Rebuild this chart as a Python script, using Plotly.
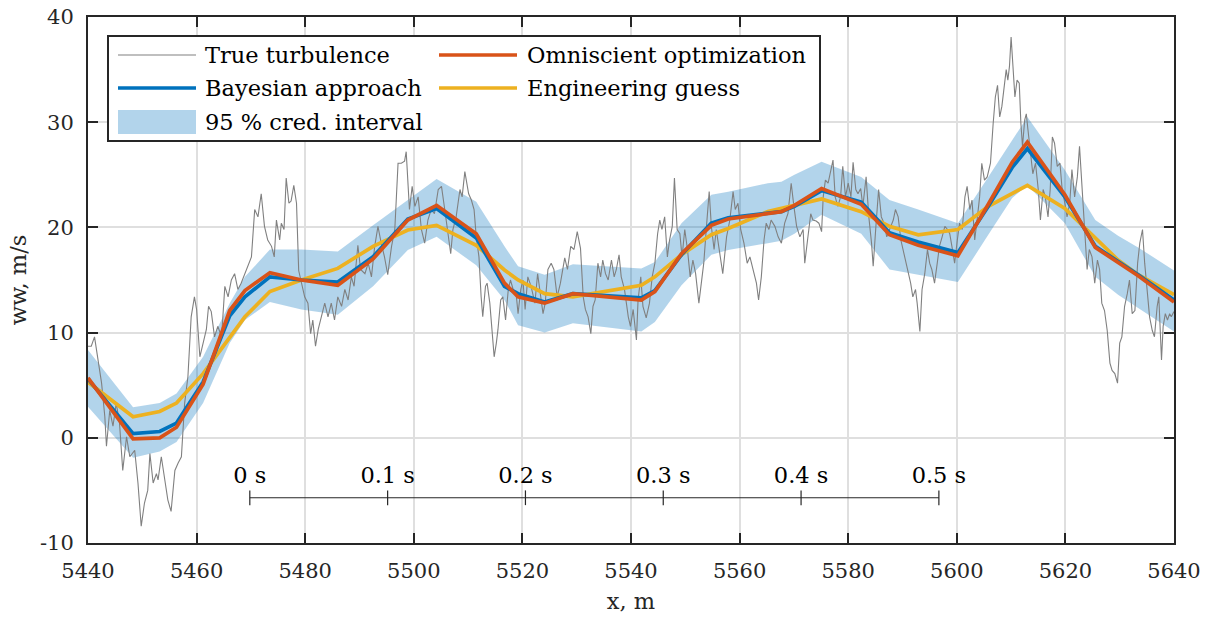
import plotly.graph_objects as go

# ---------------- data ----------------
node_x = [5440.0, 5448.3, 5453.2, 5456.3, 5461.2, 5466.1, 5468.9, 5473.5, 5479.3, 5486.0,
          5492.5, 5498.9, 5504.2, 5511.5, 5516.7, 5519.2, 5524.1, 5529.3, 5541.9, 5544.4,
          5549.3, 5554.8, 5557.9, 5565.2, 5567.7, 5570.1, 5575.1, 5582.4, 5587.6, 5592.9,
          5600.2, 5605.8, 5610.2, 5613.0, 5619.9, 5625.5, 5629.7, 5633.4, 5640.0]
omniscient = [5.7, -0.1, 0.0, 1.0, 5.1, 12.1, 14.0, 15.7, 15.0, 14.5,
              17.0, 20.7, 22.1, 19.4, 14.7, 13.4, 12.8, 13.7, 13.1, 13.9,
              17.5, 20.2, 20.8, 21.3, 21.5, 22.1, 23.7, 22.2, 19.3, 18.3,
              17.3, 22.2, 26.2, 28.1, 23.1, 18.1, 16.7, 15.4, 12.9]
bayesian = [5.6, 0.4, 0.6, 1.4, 5.3, 11.6, 13.4, 15.3, 15.0, 14.8,
            17.2, 20.8, 21.8, 19.0, 14.4, 13.7, 12.9, 13.7, 13.3, 14.0,
            17.4, 20.4, 20.9, 21.3, 21.5, 22.0, 23.5, 22.4, 19.5, 18.6,
            17.6, 22.0, 25.7, 27.5, 22.9, 18.2, 16.8, 15.5, 13.1]
engineering = [5.3, 2.0, 2.5, 3.3, 6.1, 9.6, 11.5, 13.9, 15.0, 16.1,
               18.2, 19.75, 20.2, 18.3, 15.95, 15.0, 13.7, 13.4, 14.5, 15.3,
               17.4, 19.3, 19.9, 21.5, 21.8, 22.1, 22.7, 21.5, 20.1, 19.3,
               19.8, 22.0, 23.2, 24.0, 21.8, 19.0, 16.9, 15.5, 13.6]
ci_upper = [8.35, 2.9, 3.3, 4.2, 7.7, 12.8, 15.3, 17.9, 17.9, 17.7,
            20.2, 22.6, 24.6, 22.45, 18.2, 16.3, 15.5, 16.5, 16.1, 16.7,
            20.4, 23.1, 23.4, 24.2, 24.35, 25.0, 26.25, 24.8, 22.6, 21.7,
            20.4, 24.8, 28.3, 30.5, 25.45, 20.7, 19.2, 18.1, 15.9]
ci_lower = [2.96, -1.9, -1.3, -0.4, 3.3, 9.0, 11.2, 12.9, 12.2, 11.7,
            14.4, 17.85, 19.1, 16.4, 13.1, 10.7, 10.0, 10.9, 10.1, 11.0,
            14.5, 17.4, 17.85, 18.5, 18.74, 19.4, 21.2, 19.4, 16.0, 15.5,
            14.8, 19.3, 22.8, 24.0, 20.4, 15.3, 13.6, 12.35, 10.1]

turb_x = [
    5440.0, 5440.6, 5441.2, 5441.8, 5442.5, 5443.1, 5443.4, 5444.0, 5444.6, 5445.2,
    5445.8, 5446.4, 5447.1, 5447.7, 5448.6, 5449.2, 5449.8, 5450.4, 5451.0, 5451.4,
    5452.0, 5452.6, 5452.9, 5453.5, 5454.1, 5454.7, 5455.3, 5456.0, 5456.6, 5457.2,
    5457.8, 5458.4, 5459.0, 5459.6, 5460.0, 5460.6, 5461.2, 5461.8, 5462.2, 5462.7,
    5463.3, 5463.9, 5464.6, 5465.2, 5465.8, 5466.4, 5467.0, 5467.6, 5468.2, 5468.9,
    5469.5, 5470.1, 5470.7, 5471.3, 5471.9, 5472.5, 5473.1,
    5473.8, 5474.3, 5474.7, 5475.3, 5475.6, 5476.1, 5476.5, 5477.0, 5477.4, 5477.9,
    5478.4, 5478.8, 5479.3, 5479.9, 5480.5, 5481.0, 5481.4, 5481.9, 5482.4, 5483.0,
    5483.6, 5484.2, 5484.8, 5485.4, 5486.0, 5486.7, 5487.3, 5487.9, 5488.5, 5489.0,
    5489.4, 5489.7, 5490.2, 5491.0, 5491.6, 5492.2, 5492.8, 5493.4, 5494.0, 5494.6,
    5495.2, 5495.9, 5496.5, 5497.1, 5497.7, 5498.3, 5498.6, 5498.9, 5499.2, 5499.7,
    5500.2, 5500.8, 5501.4, 5502.0, 5502.6, 5503.2, 5503.8, 5504.5, 5505.1, 5505.7,
    5506.3,
    5506.8, 5507.2, 5507.8, 5508.5, 5508.9, 5509.4, 5509.7, 5510.1, 5510.6, 5511.1,
    5511.5, 5512.0, 5512.4, 5512.7, 5513.2, 5513.5, 5514.0, 5514.4, 5514.8, 5515.2,
    5515.5, 5516.0, 5516.4, 5516.9, 5517.4, 5517.8, 5518.3, 5518.9, 5519.2, 5519.7,
    5520.1, 5520.5, 5521.0, 5521.6, 5522.3, 5522.8, 5523.2, 5523.8, 5524.2, 5524.7,
    5525.3, 5525.8, 5526.4, 5527.0, 5527.8, 5528.3, 5528.9, 5529.5, 5530.1, 5530.7,
    5531.2, 5531.6, 5532.1, 5532.6, 5533.0, 5533.4, 5533.9, 5534.4, 5534.8, 5535.3,
    5535.8, 5536.4, 5536.9, 5537.3, 5537.8, 5538.2, 5538.8, 5539.5,
    5539.9, 5540.4, 5541.0, 5541.3, 5541.8, 5542.2, 5542.8, 5543.4, 5543.9, 5544.4,
    5544.9, 5545.3, 5545.7, 5546.2, 5546.7, 5547.1, 5547.6, 5548.0, 5548.5, 5549.0,
    5549.4, 5549.9, 5550.4, 5550.9, 5551.4, 5551.9, 5552.5, 5553.0, 5553.4, 5553.9,
    5554.4, 5554.8, 5555.3, 5555.7, 5556.3, 5556.9, 5557.6, 5558.2, 5558.8, 5559.2,
    5559.7, 5560.2, 5560.8, 5561.4, 5561.9, 5562.5, 5563.1, 5563.5, 5564.0, 5564.5,
    5564.9, 5565.4, 5565.8, 5566.5, 5567.1, 5567.7, 5568.3, 5568.9, 5569.5, 5570.0,
    5570.5, 5571.1, 5571.7, 5572.0, 5572.5,
    5573.1, 5573.5, 5574.1, 5574.6, 5575.1, 5575.4, 5575.8, 5576.3, 5576.8, 5577.2,
    5577.6, 5578.1, 5578.6, 5579.0, 5579.5, 5580.0, 5580.5, 5580.9, 5581.4, 5581.8,
    5582.3, 5582.7, 5583.3, 5583.8, 5584.3, 5584.6, 5585.1, 5585.6, 5586.1, 5586.6,
    5587.1, 5587.6, 5588.3, 5588.7, 5589.2, 5589.7, 5590.1, 5590.5, 5591.0, 5591.5,
    5591.9, 5592.4, 5592.7, 5593.2, 5593.6, 5594.1, 5594.6, 5595.0, 5595.4, 5595.9,
    5596.4, 5596.8, 5597.3, 5597.8, 5598.3, 5598.7, 5599.1, 5599.6, 5600.1, 5600.5,
    5601.0, 5601.5, 5601.9, 5602.4, 5602.8, 5603.3, 5603.8, 5604.2, 5604.6, 5605.1,
    5605.6,
    5606.2, 5606.7, 5607.1, 5607.5, 5607.9, 5608.3, 5608.8, 5609.1, 5609.4, 5609.7,
    5610.0, 5610.4, 5610.7, 5611.1, 5611.5, 5611.8, 5612.1, 5612.5, 5612.8, 5613.1,
    5613.6, 5614.0, 5614.5, 5615.0, 5615.4, 5615.9, 5616.3, 5616.8, 5617.2, 5617.6,
    5618.0, 5618.5, 5619.0, 5619.4, 5619.9, 5620.3, 5620.8, 5621.2, 5621.7, 5622.2,
    5622.6, 5623.1, 5623.6, 5624.0, 5624.4, 5624.9, 5625.4, 5625.9, 5626.3, 5626.7,
    5627.2, 5627.7, 5628.2, 5628.6, 5629.1, 5629.6, 5630.0, 5630.4, 5630.9, 5631.4,
    5631.8, 5632.3, 5632.8, 5633.3, 5633.7, 5634.2, 5634.6, 5635.1, 5635.5, 5636.0,
    5636.4, 5636.9, 5637.2, 5637.7, 5638.0, 5638.4, 5638.8, 5639.2, 5639.5, 5640.0]
turb_y = [
    8.7, 8.7, 9.6, 7.7, 5.2, 2.0, -0.8, 2.6, 1.1, 3.3,
    1.4, -3.1, 0.1, -1.8, -1.2, -4.3, -8.4, -6.2, -5.0, -1.5,
    -4.3, -3.4, -4.0, -1.8, -3.7, -5.9, -7.0, -3.1, -2.4, -1.8,
    3.3, 5.8, 11.5, 13.4, 12.2, 7.7, 9.0, 10.3, 12.5, 12.0,
    9.6, 10.6, 9.6, 14.4, 13.4, 15.0, 15.6, 14.1, 14.7, 15.6,
    16.3, 17.2, 21.7, 21.0, 23.2, 20.1, 18.8,
    18.2, 17.2, 20.7, 18.8, 20.4, 19.8, 24.7, 22.3, 22.5, 24.0,
    22.3, 15.9, 14.7, 13.4, 12.8, 9.9, 11.2, 8.7, 10.3, 11.5,
    12.8, 11.5, 12.8, 11.2, 13.4, 12.5, 14.1, 13.1, 15.3, 14.4,
    16.6, 18.3, 16.0, 15.6, 16.6, 15.3, 18.2, 20.1, 18.5, 17.2,
    15.5, 18.2, 19.8, 26.1, 26.1, 26.3, 27.2, 24.8, 21.7, 23.9,
    22.0, 22.9, 19.8, 18.5, 20.7, 21.7, 21.3, 23.6, 23.9, 21.7,
    19.1,
    17.5, 19.8, 21.0, 23.6, 22.9, 25.3, 24.5, 23.2, 22.6, 21.7,
    19.1, 17.2, 13.4, 11.5, 14.4, 14.7, 12.8, 10.3, 7.7, 9.0,
    10.3, 13.1, 13.4, 11.2, 14.1, 15.0, 14.1, 13.4, 11.8, 14.1,
    15.0, 12.2, 15.3, 14.4, 12.8, 15.6, 14.1, 11.8, 12.8, 16.0,
    16.6, 16.0, 13.4, 14.7, 17.1, 16.0, 18.2, 17.9, 19.6, 18.0,
    13.4, 12.2, 11.5, 9.9, 12.5, 13.1, 16.6, 15.3, 16.9, 15.6,
    15.0, 16.9, 15.3, 16.0, 17.4, 15.3, 14.1, 11.5,
    10.6, 12.2, 9.3, 13.1, 15.3, 12.5, 11.4, 12.8, 15.3, 16.6,
    19.4, 20.7, 19.8, 21.0, 17.2, 18.8, 20.1, 24.7, 19.8, 19.4,
    17.2, 19.8, 17.9, 15.3, 16.9, 15.6, 12.8, 15.0, 16.6, 20.1,
    23.4, 20.1, 17.9, 19.8, 17.9, 15.6, 19.1, 20.7, 23.4, 21.7,
    22.3, 19.8, 18.5, 16.6, 17.2, 16.0, 14.7, 13.1, 15.3, 18.8,
    20.4, 19.8, 20.7, 20.1, 19.1, 18.5, 20.4, 21.3, 24.2, 22.0,
    20.1, 19.1, 19.8, 16.6, 18.8,
    21.3, 20.7, 20.6, 20.4, 19.6, 22.9, 24.5, 24.2, 25.5, 26.4,
    22.9, 22.0, 22.9, 25.8, 22.9, 24.2, 22.9, 26.2, 23.6, 23.2,
    23.7, 22.0, 24.8, 21.0, 18.5, 16.3, 20.1, 23.6, 21.0, 20.4,
    19.1, 19.8, 20.7, 21.7, 21.0, 18.8, 17.9, 16.9, 15.6, 14.7,
    13.4, 14.1, 12.8, 10.1, 14.1, 15.6, 17.9, 16.6, 16.0, 14.7,
    16.6, 18.2, 19.1, 20.1, 19.8, 19.4, 18.2, 16.6, 18.8, 20.4,
    19.8, 22.9, 23.9, 21.7, 22.6, 18.8, 21.0, 22.9, 26.1, 24.5,
    24.8,
    26.1, 29.9, 32.4, 33.5, 30.5, 31.5, 33.7, 35.0, 34.0, 35.3,
    38.1, 35.0, 32.4, 34.0, 33.7, 29.9, 27.7, 30.2, 30.8, 29.3,
    26.7, 25.1, 26.1, 23.6, 20.7, 23.6, 22.9, 21.0, 23.6, 28.6,
    28.0, 25.8, 26.1, 23.6, 22.3, 21.0, 22.3, 25.5, 22.9, 24.8,
    27.7, 23.6, 18.5, 16.0, 17.9, 17.2, 14.7, 16.9, 16.0, 12.8,
    12.1, 10.2, 7.1, 6.4, 6.1, 5.2, 9.0, 9.6, 12.5, 13.7,
    15.0, 11.8, 12.1, 16.6, 18.5, 19.8, 16.6, 13.4, 11.5, 10.2,
    9.6, 12.5, 13.4, 7.4, 10.6, 11.8, 11.2, 11.8, 11.5, 12.0]

time_ticks = [0.0, 0.1, 0.2, 0.3, 0.4, 0.5]          # s
time_labels = ["0 s", "0.1 s", "0.2 s", "0.3 s", "0.4 s", "0.5 s"]
time_origin_x = 5469.8                              # m, position of 0 s
flight_speed = 253.8                                # m/s
time_bar_y = -5.7
time_label_y = -3.75
time_tick_half = 0.7

x_ticks = list(range(5440, 5641, 20))
y_ticks = list(range(-10, 41, 10))
y_ticktext = [str(v) for v in y_ticks]   # ASCII hyphen, like the reference

legend_labels = ["True turbulence", "Omniscient optimization", "Bayesian approach",
                 "Engineering guess", "95 % cred. interval"]

# ---------------- styling ----------------
FONT = "DejaVu Serif, Liberation Serif, serif"
C_GRAY = "#808080"
C_BLUE = "#0072BD"
C_ORANGE = "#D95319"
C_YELLOW = "#EDB120"
C_BAND = "rgba(0,114,189,0.30)"
C_AX = "#262626"
FS = 22.5
FS_TICK = 21
LW = 3.7

W, H = 1207, 619
ML, MR, MT, MB = 88, 33, 17, 76
PW, PH = W - ML - MR, H - MT - MB


def pxx(px):
    return (px - ML) / PW


def pxy(py):
    return (H - MB - py) / PH


fig = go.Figure()

# credible interval band
fig.add_trace(go.Scatter(
    x=node_x + node_x[::-1], y=ci_upper + ci_lower[::-1],
    fill="toself", fillcolor=C_BAND, line=dict(width=0),
    mode="lines", hoverinfo="skip", showlegend=False))

# true turbulence
fig.add_trace(go.Scatter(x=turb_x, y=turb_y, mode="lines",
                         line=dict(color=C_GRAY, width=1.1), showlegend=False))
# engineering guess
fig.add_trace(go.Scatter(x=node_x, y=engineering, mode="lines",
                         line=dict(color=C_YELLOW, width=LW), showlegend=False))
# bayesian
fig.add_trace(go.Scatter(x=node_x, y=bayesian, mode="lines",
                         line=dict(color=C_BLUE, width=LW), showlegend=False))
# omniscient
fig.add_trace(go.Scatter(x=node_x, y=omniscient, mode="lines",
                         line=dict(color=C_ORANGE, width=LW), showlegend=False))

# time scale bar
bar_x, bar_y = [], []
tick_pos = [time_origin_x + t * flight_speed for t in time_ticks]
bar_x += [tick_pos[0], tick_pos[-1], None]
bar_y += [time_bar_y, time_bar_y, None]
for xp in tick_pos:
    bar_x += [xp, xp, None]
    bar_y += [time_bar_y - time_tick_half, time_bar_y + time_tick_half, None]
fig.add_trace(go.Scatter(x=bar_x, y=bar_y, mode="lines",
                         line=dict(color=C_AX, width=1.2), showlegend=False,
                         hoverinfo="skip"))
fig.add_trace(go.Scatter(x=tick_pos, y=[time_label_y] * len(tick_pos), mode="text",
                         text=time_labels, textposition="middle center",
                         textfont=dict(family=FONT, size=FS, color="#000000"),
                         showlegend=False, hoverinfo="skip"))

# ---------------- manual legend (MATLAB-like two columns) ----------------
shapes = []
annotations = []
box = dict(x0=108, x1=820, y0=36, y1=141)
shapes.append(dict(type="rect", xref="paper", yref="paper",
                   x0=pxx(box["x0"]), x1=pxx(box["x1"]),
                   y0=pxy(box["y1"]), y1=pxy(box["y0"]),
                   fillcolor="white", line=dict(color=C_AX, width=2), layer="above"))
row_y = [55, 88, 122]
col_sample = [(118, 196), (439, 517)]
col_text = [203, 525]
entries = [
    (0, 0, "line", C_GRAY, 1.1),
    (1, 0, "line", C_ORANGE, LW),
    (0, 1, "line", C_BLUE, LW),
    (1, 1, "line", C_YELLOW, LW),
    (0, 2, "patch", C_BAND, 0),
]
for (col, row, kind, color, lw), label in zip(entries, legend_labels):
    x0, x1 = col_sample[col]
    yc = row_y[row]
    if kind == "line":
        shapes.append(dict(type="line", xref="paper", yref="paper",
                           x0=pxx(x0), x1=pxx(x1), y0=pxy(yc), y1=pxy(yc),
                           line=dict(color=color, width=lw), layer="above"))
    else:
        shapes.append(dict(type="rect", xref="paper", yref="paper",
                           x0=pxx(x0), x1=pxx(x1), y0=pxy(yc + 12), y1=pxy(yc - 12),
                           fillcolor=color, line=dict(width=0), layer="above"))
    annotations.append(dict(xref="paper", yref="paper", x=pxx(col_text[col]), y=pxy(yc),
                            text=label, showarrow=False, xanchor="left", yanchor="middle",
                            font=dict(family=FONT, size=FS, color="#000000")))

axis_common = dict(
    showline=True, linecolor=C_AX, linewidth=2, mirror="allticks",
    ticks="inside", ticklen=10, tickwidth=2, tickcolor=C_AX,
    showgrid=True, gridcolor="#dfdfdf", gridwidth=2, zeroline=False,
    tickfont=dict(family=FONT, size=FS_TICK, color=C_AX),
    automargin=False,
)

fig.update_layout(
    width=W, height=H,
    margin=dict(l=ML, r=MR, t=MT, b=MB, autoexpand=False),
    paper_bgcolor="white", plot_bgcolor="white",
    showlegend=False,
    xaxis=dict(range=[5440, 5640], tickvals=x_ticks, ticklabelstandoff=8,
               title=dict(text="x, m", font=dict(family=FONT, size=FS, color=C_AX), standoff=11),
               **axis_common),
    yaxis=dict(range=[-10, 40], tickvals=y_ticks, ticktext=y_ticktext, ticklabelstandoff=8,
               title=dict(text="ww, m/s", font=dict(family=FONT, size=FS, color=C_AX), standoff=7),
               **axis_common),
    shapes=shapes, annotations=annotations,
)

fig.write_html("out.html")
